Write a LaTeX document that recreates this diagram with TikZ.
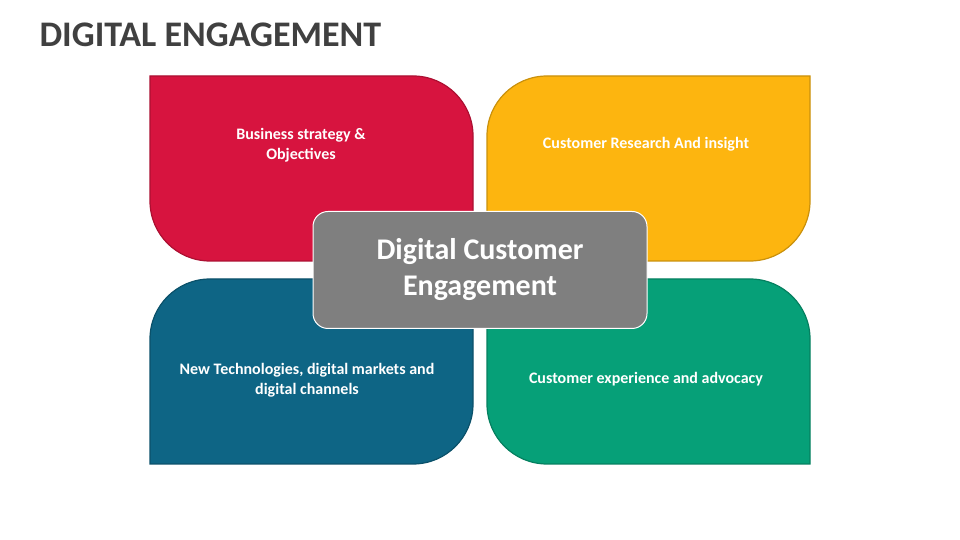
\documentclass[tikz,border=0pt]{standalone}
\usepackage{fontspec}
\setmainfont{Carlito}
\begin{document}
\begin{tikzpicture}[x=1pt,y=1pt,
  petal/.style={line width=1.2pt,draw=#1!80!black,fill=#1},
  lbl/.style={text=white,font=\bfseries\fontsize{16}{20}\selectfont,align=center}]
\definecolor{cred}{HTML}{D7143F}
\definecolor{cyel}{HTML}{FDB50F}
\definecolor{cteal}{HTML}{0E6585}
\definecolor{cgrn}{HTML}{06A078}
\definecolor{cgray}{HTML}{7F7F7F}
\definecolor{ctitle}{HTML}{404040}
\useasboundingbox[fill=white] (0,0) rectangle (960,540);
\node[anchor=west,text=ctitle,font=\bfseries\fontsize{36}{40}\selectfont] (title) at (36,505) {DIGITAL ENGAGEMENT};
\path[petal=cred] (150,464) -- (413,464) arc[start angle=90,end angle=0,radius=60] -- (473,279) -- (210,279) arc[start angle=270,end angle=180,radius=60] -- cycle;
\path[petal=cyel] (547,464) -- (810,464) -- (810,339) arc[start angle=0,end angle=-90,radius=60] -- (487,279) -- (487,404) arc[start angle=180,end angle=90,radius=60] -- cycle;
\path[petal=cteal] (150,201) arc[start angle=180,end angle=90,radius=60] -- (473,261) -- (473,136) arc[start angle=0,end angle=-90,radius=60] -- (150,76) -- cycle;
\path[petal=cgrn] (487,261) -- (750,261) arc[start angle=90,end angle=0,radius=60] -- (810,76) -- (547,76) arc[start angle=270,end angle=180,radius=60] -- cycle;
\node[lbl] (a) at (301,395) {Business strategy \&\\Objectives};
\node[lbl] (b) at (646,396) {Customer Research And insight};
\node[lbl] (c) at (307,160) {New Technologies, digital markets and\\digital channels};
\node[lbl] (d) at (646,161) {Customer experience and advocacy};
\node[fill=cgray,draw=white,line width=1pt,rounded corners=15,minimum width=334,minimum height=117,text=white,font=\bfseries\fontsize{30}{36}\selectfont,align=center] (m) at (480,270) {\raisebox{-3pt}{Digital Customer}\\\raisebox{-3pt}{Engagement}};
\end{tikzpicture}
\end{document}
